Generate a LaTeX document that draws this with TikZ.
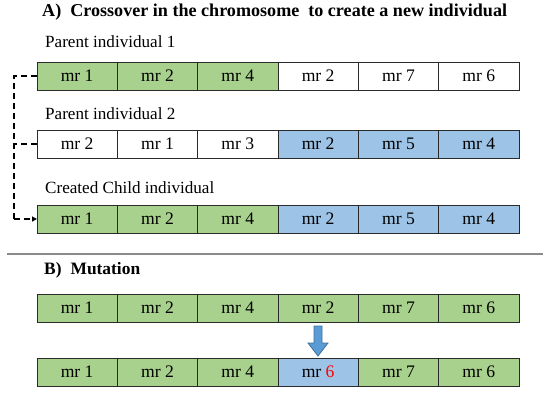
\documentclass[tikz,border=0pt]{standalone}
\usepackage{fontspec}
\setmainfont{Liberation Serif}
\usetikzlibrary{arrows.meta}
\definecolor{cg}{HTML}{A9D18E}
\definecolor{cb}{HTML}{9DC3E6}
\definecolor{cw}{HTML}{FFFFFF}
\definecolor{ab}{HTML}{5B9BD5}
\definecolor{abd}{HTML}{41719C}
\definecolor{ln}{HTML}{2A2A2A}
\definecolor{sep}{HTML}{8A8A8A}
\begin{document}
\begin{tikzpicture}[x=1pt,y=-1pt,
  cell/.style={draw=ln, line width=0.9pt, minimum width=80.33pt, minimum height=28pt,
    inner sep=0pt, outer sep=0pt, font=\fontsize{17.6}{20}\selectfont, anchor=north west},
  ttl/.style={anchor=base west, inner sep=0pt, font=\fontsize{17.4}{20}\selectfont\bfseries},
  lbl/.style={anchor=base west, inner sep=0pt, font=\fontsize{17.1}{22}\selectfont},
  conn/.style={draw=black, line width=1.3pt, dash pattern=on 6pt off 4pt},
  blockarrow/.style={fill=ab, draw=abd, line width=0.8pt, line join=miter}]
\useasboundingbox (0,0) rectangle (550,394);

\node[ttl, font=\fontsize{18.1}{20}\selectfont\bfseries] (ta) at (42,16.5) {A)\hspace{9pt}Crossover in the chromosome\hspace{9pt}to create a new individual};
\node[lbl] (l1) at (45,47.5) {Parent individual 1};
\node[lbl] (l2) at (45,119) {Parent individual 2};
\node[lbl] (l3) at (45,193) {Created Child individual};

\foreach \lab/\col [count=\i] in {mr 1/cg, mr 2/cg, mr 4/cg, mr 2/cw, mr 7/cw, mr 6/cw}
  \node[cell, fill=\col] (a\i) at ({37+(\i-1)*80.33},62) {\lab};
\foreach \lab/\col [count=\i] in {mr 2/cw, mr 1/cw, mr 3/cw, mr 2/cb, mr 5/cb, mr 4/cb}
  \node[cell, fill=\col] (b\i) at ({37+(\i-1)*80.33},130) {\lab};
\foreach \lab/\col [count=\i] in {mr 1/cg, mr 2/cg, mr 4/cg, mr 2/cb, mr 5/cb, mr 4/cb}
  \node[cell, fill=\col] (c\i) at ({37+(\i-1)*80.33},205) {\lab};

\coordinate (k1) at (14,76);
\coordinate (k2) at (14,144);
\coordinate (k3) at (14,219);
\draw[conn] (a1.west) -- (k1) -- (k3);
\draw[conn] (b1.west) -- (k2);
\draw[conn, -{Triangle[length=5pt,width=5pt]}] (k3) -- (c1.west);

\draw[draw=sep, line width=1.2pt] (7,254) -- (543,254);

\node[ttl] (tb) at (44,274.5) {B)\hspace{9pt}Mutation};

\foreach \lab/\col [count=\i] in {mr 1/cg, mr 2/cg, mr 4/cg, mr 2/cg, mr 7/cg, mr 6/cg}
  \node[cell, fill=\col] (d\i) at ({37+(\i-1)*80.33},294) {\lab};
\foreach \lab/\col [count=\i] in {mr 1/cg, mr 2/cg, mr 4/cg, mr \textcolor{red}{6}/cb, mr 7/cg, mr 6/cg}
  \node[cell, fill=\col] (e\i) at ({37+(\i-1)*80.33},358) {\lab};

\draw[blockarrow] (314,326) -- (322,326) -- (322,343) -- (328,343) -- (318,356) -- (308,343) -- (314,343) -- cycle;
\end{tikzpicture}
\end{document}
